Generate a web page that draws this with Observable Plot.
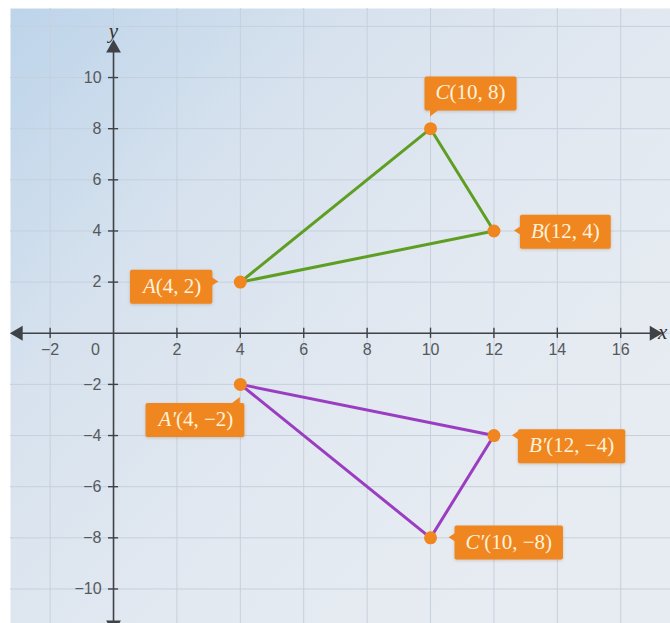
<!DOCTYPE html>
<html>
<head>
<meta charset="utf-8">
<script src="https://cdn.jsdelivr.net/npm/d3@7"></script>
<script src="https://cdn.jsdelivr.net/npm/@observablehq/plot@0.6"></script>
<style>
  html, body { margin: 0; padding: 0; background: #ffffff; }
  #chart svg { display: block; }
</style>
</head>
<body>
<div id="chart"></div>
<script>
// ---------- data ----------
const xTickValues = [-2, 0, 2, 4, 6, 8, 10, 12, 14, 16];
const yTickValues = [-10, -8, -6, -4, -2, 2, 4, 6, 8, 10];
const xGridValues = [-2, 0, 2, 4, 6, 8, 10, 12, 14, 16];
const yGridValues = [-10, -8, -6, -4, -2, 0, 2, 4, 6, 8, 10, 12];
const triangleNames = ["A", "B", "C"];
const triangleX = [4, 12, 10];
const triangleY = [2, 4, 8];
const imageNames = ["A′", "B′", "C′"];
const imageX = [4, 12, 10];
const imageY = [-2, -4, -8];
const xAxisEnds = [-3, 17.05];
const yAxisEnds = [-11.4, 11.15];

// ---------- derived tables ----------
const original = triangleNames.map((n, i) => ({name: n, x: triangleX[i], y: triangleY[i]}));
const image = imageNames.map((n, i) => ({name: n, x: imageX[i], y: imageY[i]}));
const allPoints = original.concat(image);
const fmt = v => (v < 0 ? "\u2212" + (-v) : String(v));
const labelText = d => `${d.name}(${fmt(d.x)}, ${fmt(d.y)})`;

// label placement (pixel offsets, styling only)
const placement = {
  "A":  {dx: -39, dy: 4,   anchor: "end",   pointer: "right"},
  "B":  {dx: 37,  dy: 0,   anchor: "start", pointer: "left"},
  "C":  {dx: 5,   dy: -36, anchor: "start", pointer: "bottom"},
  "A′": {dx: -7,  dy: 35,  anchor: "end",   pointer: "top"},
  "B′": {dx: 35,  dy: 10,  anchor: "start", pointer: "left"},
  "C′": {dx: 35,  dy: 4,   anchor: "start", pointer: "left"}
};

const GREEN = "#5e9e22";
const PURPLE = "#9b3dc1";
const ORANGE = "#f0861f";
const AXIS = "#3f4246";
const GRID = "#c6d0dc";
const LABEL_FONT = "'Liberation Serif', 'DejaVu Serif', serif";
const TICK_FONT = "'Liberation Sans', Arial, sans-serif";

const labelMarks = allPoints.map(p => Plot.text([p], {
  x: "x", y: "y", text: labelText,
  dx: placement[p.name].dx, dy: placement[p.name].dy,
  textAnchor: placement[p.name].anchor,
  fill: "#fff2dc", fontSize: 21, fontFamily: LABEL_FONT
}));

const plot = Plot.plot({
  width: 670,
  height: 623,
  marginTop: 8,
  marginLeft: 10,
  marginRight: 0,
  marginBottom: 0,
  x: {domain: [-3.25, 17.57], axis: null},
  y: {domain: [-11.35, 12.7], axis: null},
  style: {background: "#ffffff", overflow: "visible"},
  marks: [
    Plot.frame({fill: "url(#bgGrad)", stroke: null}),
    Plot.ruleX(xGridValues, {stroke: GRID, strokeWidth: 1}),
    Plot.ruleY(yGridValues, {stroke: GRID, strokeWidth: 1}),
    // axes lines
    Plot.ruleY([0], {x1: xAxisEnds[0], x2: xAxisEnds[1], stroke: AXIS, strokeWidth: 1.6}),
    Plot.ruleX([0], {y1: yAxisEnds[0], y2: yAxisEnds[1], stroke: AXIS, strokeWidth: 1.6}),
    // arrow heads
    Plot.dot([{x: xAxisEnds[0], y: 0, r: -90}, {x: xAxisEnds[1], y: 0, r: 90}],
      {x: "x", y: "y", rotate: "r", symbol: "triangle", r: 5.5, fill: AXIS, stroke: null}),
    Plot.dot([{x: 0, y: yAxisEnds[1], r: 0}, {x: 0, y: yAxisEnds[0], r: 180}],
      {x: "x", y: "y", rotate: "r", symbol: "triangle", r: 5.5, fill: AXIS, stroke: null}),
    // tick marks
    Plot.ruleX(xTickValues.filter(d => d !== 0), {x: d => d, y1: -0.2, y2: 0.2, stroke: AXIS, strokeWidth: 1.4}),
    Plot.ruleY(yTickValues, {y: d => d, x1: -0.16, x2: 0.16, stroke: AXIS, strokeWidth: 1.4}),
    // tick labels
    Plot.text(xTickValues.filter(d => d !== 0), {x: d => d, y: 0, text: fmt, dy: 17, fontSize: 16, fill: "#55585c", fontFamily: TICK_FONT}),
    Plot.text([0], {x: 0, y: 0, text: fmt, dx: -18, dy: 17, fontSize: 16, fill: "#55585c", fontFamily: TICK_FONT}),
    Plot.text(yTickValues, {x: 0, y: d => d, text: fmt, dx: -12, textAnchor: "end", fontSize: 16, fill: "#55585c", fontFamily: TICK_FONT}),
    // axis names
    Plot.text(["x"], {x: xAxisEnds[1], y: 0, text: d => d, dx: 4, dy: -1, textAnchor: "start", fontSize: 21, fontStyle: "italic", fill: "#333", fontFamily: LABEL_FONT}),
    Plot.text(["y"], {x: 0, y: yAxisEnds[1], text: d => d, dy: -17, fontSize: 21, fontStyle: "italic", fill: "#333", fontFamily: LABEL_FONT}),
    // triangles
    Plot.line(original.concat([original[0]]), {x: "x", y: "y", stroke: GREEN, strokeWidth: 3}),
    Plot.line(image.concat([image[0]]), {x: "x", y: "y", stroke: PURPLE, strokeWidth: 3}),
    Plot.dot(allPoints, {x: "x", y: "y", r: 6.5, fill: ORANGE, stroke: null}),
    ...labelMarks
  ]
});

document.getElementById("chart").append(plot);

// ---------- post-processing: gradient, label boxes ----------
const svg = d3.select(plot);
const defs = svg.insert("defs", ":first-child");
const grad = defs.append("linearGradient").attr("id", "bgGrad")
  .attr("x1", "0").attr("y1", "0").attr("x2", "0.9").attr("y2", "0.75");
grad.append("stop").attr("offset", "0").attr("stop-color", "#bdd4ea");
grad.append("stop").attr("offset", "0.35").attr("stop-color", "#d7e2ee");
grad.append("stop").attr("offset", "0.7").attr("stop-color", "#e3e9f1");
grad.append("stop").attr("offset", "1").attr("stop-color", "#e7ecf2");

const xs = plot.scale("x"), ys = plot.scale("y");
const ns = "http://www.w3.org/2000/svg";
const clamp = (v, a, b) => Math.max(a, Math.min(b, v));
svg.selectAll("text").each(function() {
  const el = this;
  const txt = el.textContent;
  const m = txt.match(/^([A-C]′?)(\(.*\))$/);
  if (!m) return;
  const name = m[1];
  const pl = placement[name];
  const p = allPoints.find(q => q.name === name);
  // italic letter, upright coordinates
  el.textContent = "";
  d3.select(el).append("tspan").attr("font-style", "italic").text(name);
  d3.select(el).append("tspan").attr("font-style", "normal").text(m[2]);
  const bb = el.getBBox();
  const padX = 11, h = 34;
  const cy = bb.y + bb.height / 2 + 1;
  const rx0 = bb.x - padX, rw = bb.width + 2 * padX, ry0 = cy - h / 2;
  // the point's position in this text element's local coordinates
  const local = new DOMPoint(xs.apply(p.x), ys.apply(p.y))
    .matrixTransform(plot.getScreenCTM()).matrixTransform(el.getScreenCTM().inverse());
  const px = local.x, py = local.y;
  const tf = el.getAttribute("transform");
  const rect = document.createElementNS(ns, "rect");
  rect.setAttribute("x", rx0); rect.setAttribute("y", ry0);
  rect.setAttribute("width", rw); rect.setAttribute("height", h);
  rect.setAttribute("rx", 2); rect.setAttribute("fill", ORANGE);
  rect.setAttribute("style", "filter: drop-shadow(0px 1px 1.5px rgba(120,80,20,0.25))");
  let pts;
  if (pl.pointer === "right") {
    const yy = clamp(py, ry0 + 6, ry0 + h - 6);
    pts = [[rx0 + rw - 1, yy - 4.5], [rx0 + rw + 6, yy], [rx0 + rw - 1, yy + 4.5]];
  } else if (pl.pointer === "left") {
    const yy = clamp(py, ry0 + 6, ry0 + h - 6);
    pts = [[rx0 + 1, yy - 4.5], [rx0 - 6, yy], [rx0 + 1, yy + 4.5]];
  } else if (pl.pointer === "bottom") {
    const xx = clamp(px, rx0 + 3, rx0 + rw - 10);
    pts = [[xx, ry0 + h - 1], [xx + 9, ry0 + h - 1], [xx, ry0 + h + 6]];
  } else {
    const xx = clamp(px, rx0 + 10, rx0 + rw - 3);
    pts = [[xx - 9, ry0 + 1], [xx, ry0 - 6], [xx, ry0 + 1]];
  }
  const tri = document.createElementNS(ns, "polygon");
  tri.setAttribute("points", pts.map(q => q.join(",")).join(" "));
  tri.setAttribute("fill", ORANGE);
  if (tf) { rect.setAttribute("transform", tf); tri.setAttribute("transform", tf); }
  el.parentNode.insertBefore(rect, el);
  el.parentNode.insertBefore(tri, el);
});
</script>
</body>
</html>
